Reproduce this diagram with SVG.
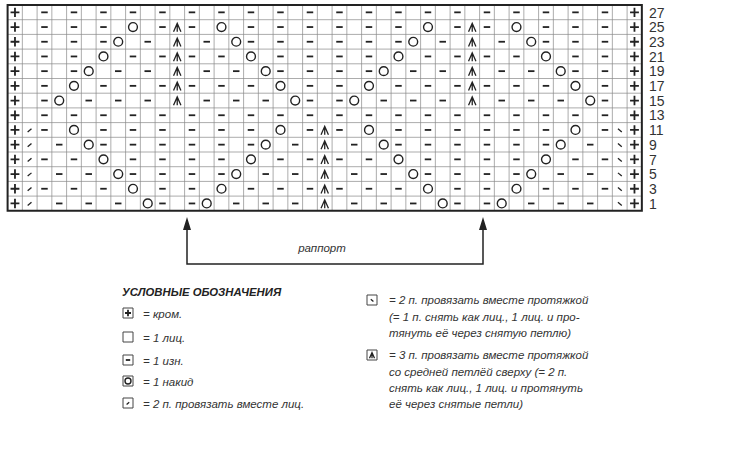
<svg xmlns="http://www.w3.org/2000/svg" xmlns:xlink="http://www.w3.org/1999/xlink" width="736" height="453" viewBox="0 0 736 453">
<style>
.s{fill:none;stroke:#222;vector-effect:non-scaling-stroke;stroke-linecap:butt}
.dw{stroke-width:1.8}
.cw{stroke-width:1.4}
.tw{stroke-width:1.3}
.grid{fill:none;stroke:#888;stroke-width:0.7;vector-effect:non-scaling-stroke}
.frame{fill:none;stroke:#222;stroke-width:2;vector-effect:non-scaling-stroke}
.lab{font-family:"Liberation Sans",Arial,sans-serif;font-size:14px;fill:#333}
.t{font-family:"Liberation Sans",Arial,sans-serif;font-size:11.5px;font-style:italic;fill:#333}
.h{font-family:"Liberation Sans",Arial,sans-serif;font-size:11.3px;font-style:italic;font-weight:bold;fill:#222}
.ib{fill:#fff;stroke:#444;stroke-width:1;vector-effect:non-scaling-stroke}
</style>
<defs>
<path id="d" class="s dw" d="M0.28 0.5H0.72"/>
<circle id="o" class="s cw" cx="0.5" cy="0.5" r="0.3"/>
<path id="p" class="s dw" d="M0.2 0.5H0.8M0.5 0.18V0.82"/>
<path id="a" class="s tw" d="M0.25 0.82L0.5 0.25L0.75 0.82M0.5 0.35V0.82"/>
<path id="l" class="s tw" d="M0.36 0.64L0.62 0.42"/>
<path id="r" class="s tw" d="M0.38 0.42L0.64 0.64"/>
</defs>
<g id="chart" transform="translate(7.6,5) scale(14.75,14.7)">
<path class="grid" d="M1 0V14M2 0V14M3 0V14M4 0V14M5 0V14M6 0V14M7 0V14M8 0V14M9 0V14M10 0V14M11 0V14M12 0V14M13 0V14M14 0V14M15 0V14M16 0V14M17 0V14M18 0V14M19 0V14M20 0V14M21 0V14M22 0V14M23 0V14M24 0V14M25 0V14M26 0V14M27 0V14M28 0V14M29 0V14M30 0V14M31 0V14M32 0V14M33 0V14M34 0V14M35 0V14M36 0V14M37 0V14M38 0V14M39 0V14M40 0V14M41 0V14M42 0V14M0 1H43M0 2H43M0 3H43M0 4H43M0 5H43M0 6H43M0 7H43M0 8H43M0 9H43M0 10H43M0 11H43M0 12H43M0 13H43"/>
<rect class="frame" x="0" y="0" width="43" height="14"/>
<g id="edges">
<use href="#p" x="0" y="0"/><use href="#p" x="0" y="1"/><use href="#p" x="0" y="2"/><use href="#p" x="0" y="3"/><use href="#p" x="0" y="4"/><use href="#p" x="0" y="5"/><use href="#p" x="0" y="6"/><use href="#p" x="0" y="7"/><use href="#p" x="0" y="8"/><use href="#p" x="0" y="9"/><use href="#p" x="0" y="10"/><use href="#p" x="0" y="11"/><use href="#p" x="0" y="12"/><use href="#p" x="0" y="13"/>
<use href="#p" x="42" y="0"/><use href="#p" x="42" y="1"/><use href="#p" x="42" y="2"/><use href="#p" x="42" y="3"/><use href="#p" x="42" y="4"/><use href="#p" x="42" y="5"/><use href="#p" x="42" y="6"/><use href="#p" x="42" y="7"/><use href="#p" x="42" y="8"/><use href="#p" x="42" y="9"/><use href="#p" x="42" y="10"/><use href="#p" x="42" y="11"/><use href="#p" x="42" y="12"/><use href="#p" x="42" y="13"/>
</g>
<g id="r27"><use href="#d" x="2"/><use href="#d" x="4"/><use href="#d" x="6"/><use href="#d" x="8"/><use href="#d" x="10"/><use href="#d" x="12"/><use href="#d" x="14"/><use href="#d" x="16"/><use href="#d" x="18"/><use href="#d" x="20"/><use href="#d" x="22"/><use href="#d" x="24"/><use href="#d" x="26"/><use href="#d" x="28"/><use href="#d" x="30"/><use href="#d" x="32"/><use href="#d" x="34"/><use href="#d" x="36"/><use href="#d" x="38"/><use href="#d" x="40"/></g>
<g id="r25" transform="translate(0,1)"><use href="#d" x="2"/><use href="#d" x="4"/><use href="#d" x="6"/><use href="#o" x="8"/><use href="#d" x="10"/><use href="#a" x="11"/><use href="#d" x="12"/><use href="#o" x="14"/><use href="#d" x="16"/><use href="#d" x="18"/><use href="#d" x="20"/><use href="#d" x="22"/><use href="#d" x="24"/><use href="#d" x="26"/><use href="#o" x="28"/><use href="#d" x="30"/><use href="#a" x="31"/><use href="#d" x="32"/><use href="#o" x="34"/><use href="#d" x="36"/><use href="#d" x="38"/><use href="#d" x="40"/></g>
<g id="r23" transform="translate(0,2)"><use href="#d" x="2"/><use href="#d" x="4"/><use href="#d" x="6"/><use href="#o" x="7"/><use href="#d" x="9"/><use href="#a" x="11"/><use href="#d" x="13"/><use href="#o" x="15"/><use href="#d" x="16"/><use href="#d" x="18"/><use href="#d" x="20"/><use href="#d" x="22"/><use href="#d" x="24"/><use href="#d" x="26"/><use href="#o" x="27"/><use href="#d" x="29"/><use href="#a" x="31"/><use href="#d" x="33"/><use href="#o" x="35"/><use href="#d" x="36"/><use href="#d" x="38"/><use href="#d" x="40"/></g>
<g id="r21" transform="translate(0,3)"><use href="#d" x="2"/><use href="#d" x="4"/><use href="#o" x="6"/><use href="#d" x="8"/><use href="#d" x="10"/><use href="#a" x="11"/><use href="#d" x="12"/><use href="#d" x="14"/><use href="#o" x="16"/><use href="#d" x="18"/><use href="#d" x="20"/><use href="#d" x="22"/><use href="#d" x="24"/><use href="#o" x="26"/><use href="#d" x="28"/><use href="#d" x="30"/><use href="#a" x="31"/><use href="#d" x="32"/><use href="#d" x="34"/><use href="#o" x="36"/><use href="#d" x="38"/><use href="#d" x="40"/></g>
<g id="r19" transform="translate(0,4)"><use href="#d" x="2"/><use href="#d" x="4"/><use href="#o" x="5"/><use href="#d" x="7"/><use href="#d" x="9"/><use href="#a" x="11"/><use href="#d" x="13"/><use href="#d" x="15"/><use href="#o" x="17"/><use href="#d" x="18"/><use href="#d" x="20"/><use href="#d" x="22"/><use href="#d" x="24"/><use href="#o" x="25"/><use href="#d" x="27"/><use href="#d" x="29"/><use href="#a" x="31"/><use href="#d" x="33"/><use href="#d" x="35"/><use href="#o" x="37"/><use href="#d" x="38"/><use href="#d" x="40"/></g>
<g id="r17" transform="translate(0,5)"><use href="#d" x="2"/><use href="#o" x="4"/><use href="#d" x="6"/><use href="#d" x="8"/><use href="#d" x="10"/><use href="#a" x="11"/><use href="#d" x="12"/><use href="#d" x="14"/><use href="#d" x="16"/><use href="#o" x="18"/><use href="#d" x="20"/><use href="#d" x="22"/><use href="#o" x="24"/><use href="#d" x="26"/><use href="#d" x="28"/><use href="#d" x="30"/><use href="#a" x="31"/><use href="#d" x="32"/><use href="#d" x="34"/><use href="#d" x="36"/><use href="#o" x="38"/><use href="#d" x="40"/></g>
<g id="r15" transform="translate(0,6)"><use href="#d" x="2"/><use href="#o" x="3"/><use href="#d" x="5"/><use href="#d" x="7"/><use href="#d" x="9"/><use href="#a" x="11"/><use href="#d" x="13"/><use href="#d" x="15"/><use href="#d" x="17"/><use href="#o" x="19"/><use href="#d" x="20"/><use href="#d" x="22"/><use href="#o" x="23"/><use href="#d" x="25"/><use href="#d" x="27"/><use href="#d" x="29"/><use href="#a" x="31"/><use href="#d" x="33"/><use href="#d" x="35"/><use href="#d" x="37"/><use href="#o" x="39"/><use href="#d" x="40"/></g>
<g id="r13" transform="translate(0,7)"><use href="#d" x="2"/><use href="#d" x="4"/><use href="#d" x="6"/><use href="#d" x="8"/><use href="#d" x="10"/><use href="#d" x="12"/><use href="#d" x="14"/><use href="#d" x="16"/><use href="#d" x="18"/><use href="#d" x="20"/><use href="#d" x="22"/><use href="#d" x="24"/><use href="#d" x="26"/><use href="#d" x="28"/><use href="#d" x="30"/><use href="#d" x="32"/><use href="#d" x="34"/><use href="#d" x="36"/><use href="#d" x="38"/><use href="#d" x="40"/></g>
<g id="r11" transform="translate(0,8)"><use href="#l" x="1"/><use href="#d" x="2"/><use href="#o" x="4"/><use href="#d" x="6"/><use href="#d" x="8"/><use href="#d" x="10"/><use href="#d" x="12"/><use href="#d" x="14"/><use href="#d" x="16"/><use href="#o" x="18"/><use href="#d" x="20"/><use href="#a" x="21"/><use href="#d" x="22"/><use href="#o" x="24"/><use href="#d" x="26"/><use href="#d" x="28"/><use href="#d" x="30"/><use href="#d" x="32"/><use href="#d" x="34"/><use href="#d" x="36"/><use href="#o" x="38"/><use href="#d" x="40"/><use href="#r" x="41"/></g>
<g id="r9" transform="translate(0,9)"><use href="#l" x="1"/><use href="#d" x="3"/><use href="#o" x="5"/><use href="#d" x="6"/><use href="#d" x="8"/><use href="#d" x="10"/><use href="#d" x="12"/><use href="#d" x="14"/><use href="#d" x="16"/><use href="#o" x="17"/><use href="#d" x="19"/><use href="#a" x="21"/><use href="#d" x="23"/><use href="#o" x="25"/><use href="#d" x="26"/><use href="#d" x="28"/><use href="#d" x="30"/><use href="#d" x="32"/><use href="#d" x="34"/><use href="#d" x="36"/><use href="#o" x="37"/><use href="#d" x="39"/><use href="#r" x="41"/></g>
<g id="r7" transform="translate(0,10)"><use href="#l" x="1"/><use href="#d" x="2"/><use href="#d" x="4"/><use href="#o" x="6"/><use href="#d" x="8"/><use href="#d" x="10"/><use href="#d" x="12"/><use href="#d" x="14"/><use href="#o" x="16"/><use href="#d" x="18"/><use href="#d" x="20"/><use href="#a" x="21"/><use href="#d" x="22"/><use href="#d" x="24"/><use href="#o" x="26"/><use href="#d" x="28"/><use href="#d" x="30"/><use href="#d" x="32"/><use href="#d" x="34"/><use href="#o" x="36"/><use href="#d" x="38"/><use href="#d" x="40"/><use href="#r" x="41"/></g>
<g id="r5" transform="translate(0,11)"><use href="#l" x="1"/><use href="#d" x="3"/><use href="#d" x="5"/><use href="#o" x="7"/><use href="#d" x="8"/><use href="#d" x="10"/><use href="#d" x="12"/><use href="#d" x="14"/><use href="#o" x="15"/><use href="#d" x="17"/><use href="#d" x="19"/><use href="#a" x="21"/><use href="#d" x="23"/><use href="#d" x="25"/><use href="#o" x="27"/><use href="#d" x="28"/><use href="#d" x="30"/><use href="#d" x="32"/><use href="#d" x="34"/><use href="#o" x="35"/><use href="#d" x="37"/><use href="#d" x="39"/><use href="#r" x="41"/></g>
<g id="r3" transform="translate(0,12)"><use href="#l" x="1"/><use href="#d" x="2"/><use href="#d" x="4"/><use href="#d" x="6"/><use href="#o" x="8"/><use href="#d" x="10"/><use href="#d" x="12"/><use href="#o" x="14"/><use href="#d" x="16"/><use href="#d" x="18"/><use href="#d" x="20"/><use href="#a" x="21"/><use href="#d" x="22"/><use href="#d" x="24"/><use href="#d" x="26"/><use href="#o" x="28"/><use href="#d" x="30"/><use href="#d" x="32"/><use href="#o" x="34"/><use href="#d" x="36"/><use href="#d" x="38"/><use href="#d" x="40"/><use href="#r" x="41"/></g>
<g id="r1" transform="translate(0,13)"><use href="#l" x="1"/><use href="#d" x="3"/><use href="#d" x="5"/><use href="#d" x="7"/><use href="#o" x="9"/><use href="#d" x="10"/><use href="#d" x="12"/><use href="#o" x="13"/><use href="#d" x="15"/><use href="#d" x="17"/><use href="#d" x="19"/><use href="#a" x="21"/><use href="#d" x="23"/><use href="#d" x="25"/><use href="#d" x="27"/><use href="#o" x="29"/><use href="#d" x="30"/><use href="#d" x="32"/><use href="#o" x="33"/><use href="#d" x="35"/><use href="#d" x="37"/><use href="#d" x="39"/><use href="#r" x="41"/></g>
</g>
<g id="rowlabels" class="lab">
<text x="649" y="17.5">27</text><text x="649" y="32.2">25</text><text x="649" y="46.9">23</text><text x="649" y="61.6">21</text><text x="649" y="76.3">19</text><text x="649" y="91">17</text><text x="649" y="105.7">15</text><text x="649" y="120.4">13</text><text x="649" y="135.1">11</text><text x="649" y="149.8">9</text><text x="649" y="164.5">7</text><text x="649" y="179.2">5</text><text x="649" y="193.9">3</text><text x="649" y="208.6">1</text>
</g>
<g id="connectors">
<path d="M187 229V264H483V229" fill="none" stroke="#222" stroke-width="1.5"/>
<path d="M187 217L183 230H191Z M483 217L479 230H487Z" fill="#222"/>
</g>
<g id="rapport"><text class="t" x="322" y="252" text-anchor="middle" font-size="12.5">раппорт</text></g>
<g id="legend">
<text class="h" x="122" y="296">УСЛОВНЫЕ ОБОЗНАЧЕНИЯ</text>
<g transform="translate(123,308) scale(10)"><rect class="ib" width="1" height="1"/><use href="#p"/></g>
<text class="t" x="143" y="318">= кром.</text>
<g transform="translate(123,332) scale(10)"><rect class="ib" width="1" height="1"/></g>
<text class="t" x="143" y="342">= 1 лиц.</text>
<g transform="translate(123,355) scale(10)"><rect class="ib" width="1" height="1"/><use href="#d"/></g>
<text class="t" x="143" y="365">= 1 изн.</text>
<g transform="translate(123,376) scale(10)"><rect class="ib" width="1" height="1"/><use href="#o"/></g>
<text class="t" x="143" y="386">= 1 накид</text>
<g transform="translate(123,398) scale(10)"><rect class="ib" width="1" height="1"/><use href="#l"/></g>
<text class="t" x="143" y="408">= 2 п. провязать вместе лиц.</text>
<g transform="translate(367,295) scale(10)"><rect class="ib" width="1" height="1"/><use href="#r"/></g>
<text class="t" x="389" y="304">= 2 п. провязать вместе протяжкой</text>
<text class="t" x="389" y="321">(= 1 п. снять как лиц., 1 лиц. и про-</text>
<text class="t" x="389" y="337">тянуть её через снятую петлю)</text>
<g transform="translate(367,350) scale(10)"><rect class="ib" width="1" height="1"/><use href="#a"/></g>
<text class="t" x="389" y="359">= 3 п. провязать вместе протяжкой</text>
<text class="t" x="389" y="376">со средней петлёй сверху (= 2 п.</text>
<text class="t" x="389" y="392">снять как лиц., 1 лиц. и протянуть</text>
<text class="t" x="389" y="408">её через снятые петли)</text>
</g>
</svg>
